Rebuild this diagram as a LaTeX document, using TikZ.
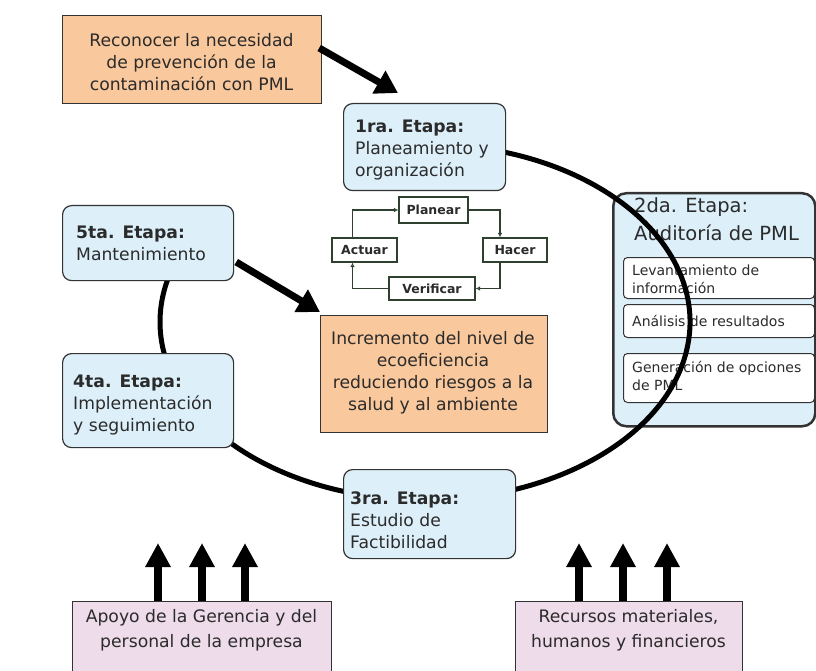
\documentclass[tikz,border=0pt]{standalone}
\usepackage{fontspec}
\setmainfont{DejaVu Sans}
\usetikzlibrary{arrows.meta,calc}
\definecolor{txtc}{HTML}{2B2B2B}
\definecolor{orangef}{HTML}{F9C89C}
\definecolor{bluef}{HTML}{DDF0FA}
\definecolor{pinkf}{HTML}{EEDCEA}
\definecolor{pdcac}{HTML}{2E402E}
\definecolor{bordc}{HTML}{333333}
\begin{document}
\begin{tikzpicture}[x=1pt,y=-1pt,
  sqbox/.style={draw=bordc, line width=1.2pt, anchor=north west, inner sep=0pt},
  stagebox/.style={draw=bordc, line width=1.2pt, fill=bluef, rounded corners=9pt, anchor=north west, inner sep=0pt},
  subbox/.style={draw=bordc, line width=1pt, fill=white, rounded corners=4pt, anchor=north west, inner sep=0pt},
  pdcabox/.style={draw=pdcac, line width=1.1pt, fill=white, inner sep=0pt, font=\bfseries\fontsize{12.5}{14}\selectfont, text=txtc},
  bigtxt/.style={font=\fontsize{17.2}{22}\selectfont, text=txtc, inner sep=0pt},
  smalltxt/.style={font=\fontsize{14}{18}\selectfont, text=txtc, inner sep=0pt, align=left, anchor=west},
  fatarrow/.style={line width=7pt, -{Triangle[width=25pt,length=22pt]}, black},
  uparrow/.style={line width=8.5pt, -{Triangle[width=24pt,length=24pt]}, black},
  pdcaline/.style={draw=pdcac, line width=1.1pt, -{Latex[open,length=4.5pt,width=4.5pt]}},
  ring/.style={line width=5pt, black}
]
\useasboundingbox (0,0) rectangle (816,671);

% 2da etapa container
\node[stagebox, line width=2.5pt, rounded corners=13pt, minimum width=202pt, minimum height=233pt] (aud) at (612,192) {};
\node[font=\fontsize{19.5}{28}\selectfont, text=txtc, inner sep=0pt, align=left, anchor=west] (audt) at (634,219) {2da. Etapa:\\Auditoría de PML};
\node[subbox, minimum width=191pt, minimum height=41pt] (lev) at (623,257) {};
\node[smalltxt] (levt) at (632,279) {Levantamiento de\\información};
\node[subbox, minimum width=191pt, minimum height=33pt] (ana) at (623,304) {};
\node[smalltxt] (anat) at (632,321) {Análisis de resultados};
\node[subbox, minimum width=191pt, minimum height=49pt] (gen) at (623,353) {};
\node[smalltxt] (gent) at (632,376) {Generación de opciones\\de PML};

% cycle ring
\coordinate (cen) at (425,322);
\draw[ring] (cen) ++(-80:265 and 178) arc[start angle=-80, end angle=197, x radius=265, y radius=178];

% orange boxes
\node[sqbox, fill=orangef, minimum width=259pt, minimum height=88pt] (rec) at (62,15) {};
\node[bigtxt, align=center] (rect) at (191.5,62) {Reconocer la necesidad\\de prevención de la\\contaminación con PML};
\node[sqbox, fill=orangef, minimum width=227pt, minimum height=117pt] (inc) at (320,315) {};
\node[bigtxt, align=center] (inct) at (433,373) {Incremento del nivel de\\ecoeficiencia\\reduciendo riesgos a la\\salud y al ambiente};

% stage boxes
\node[stagebox, minimum width=162pt, minimum height=87pt] (e1) at (343,103) {};
\node[bigtxt, align=left, anchor=west] (e1t) at (355,150) {\textbf{1ra. Etapa:}\\Planeamiento y\\organización};
\node[stagebox, minimum width=171pt, minimum height=75pt] (e5) at (62,205) {};
\node[bigtxt, align=left, anchor=west] (e5t) at (76,243) {\textbf{5ta. Etapa:}\\Mantenimiento};
\node[stagebox, minimum width=171pt, minimum height=94pt] (e4) at (62,353) {};
\node[bigtxt, align=left, anchor=west] (e4t) at (73,405) {\textbf{4ta. Etapa:}\\Implementación\\y seguimiento};
\node[stagebox, minimum width=172pt, minimum height=89pt] (e3) at (343,469) {};
\node[bigtxt, align=left, anchor=west] (e3t) at (350,520) {\textbf{3ra. Etapa:}\\Estudio de\\Factibilidad};

% PDCA
\node[pdcabox, minimum width=69pt, minimum height=26pt] (pl) at (433.5,210) {Planear};
\node[pdcabox, minimum width=64pt, minimum height=24pt] (ha) at (515,250) {Hacer};
\node[pdcabox, minimum width=86pt, minimum height=23pt] (ve) at (432,288.5) {Verificar};
\node[pdcabox, minimum width=65pt, minimum height=24pt] (ac) at (364.5,250) {Actuar};
\draw[pdcaline] ($(ac.north)+(-12,0)$) |- (pl.west);
\draw[pdcaline] (pl.east) -| ($(ha.north)+(-15,0)$);
\draw[pdcaline] ($(ha.south)+(-15,0)$) |- (ve.east);
\draw[pdcaline] (ve.west) -| ($(ac.south)+(-12,0)$);

% thick arrows
\coordinate (t1) at ($(e1.north west)+(55,-10)$);
\draw[fatarrow] ($(rec.north east)+(-3,33)$) -- (t1);
\coordinate (t5) at ($(inc.north west)+(0,-3)$);
\draw[fatarrow] ($(e5.north east)+(2,57)$) -- (t5);

% bottom boxes
\node[sqbox, fill=pinkf, minimum width=259pt, minimum height=100pt] (ap) at (72,601) {};
\node[bigtxt, align=center, font=\fontsize{17.2}{25}\selectfont] (apt) at (201.5,630.5) {Apoyo de la Gerencia y del\\personal de la empresa};
\node[sqbox, fill=pinkf, minimum width=227pt, minimum height=100pt] (re) at (515,601) {};
\node[bigtxt, align=center, font=\fontsize{17.2}{25}\selectfont] (ret) at (628.5,630.5) {Recursos materiales,\\humanos y financieros};

\foreach \dx in {86,130,173} {
  \draw[uparrow] ($(ap.north west)+(\dx,0)$) -- ++(0,-58);
}
\foreach \dx in {64,108,152} {
  \draw[uparrow] ($(re.north west)+(\dx,0)$) -- ++(0,-58);
}
\end{tikzpicture}
\end{document}
